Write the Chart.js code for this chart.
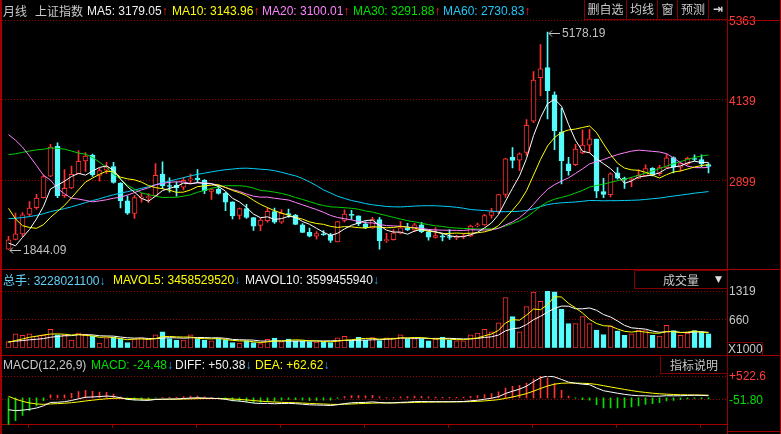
<!DOCTYPE html>
<html>
<head>
<meta charset="utf-8">
<title>上证指数 月线</title>
<script src="https://cdn.jsdelivr.net/npm/chart.js@4.4.1/dist/chart.umd.min.js"></script>
<style>
  html, body { margin: 0; padding: 0; background: #000; }
  body { position: relative; width: 781px; height: 434px; overflow: hidden;
         font-family: "Liberation Sans", Arial, "Noto Sans CJK SC", sans-serif; font-size: 12px; }
  canvas { position: absolute; left: 0; }
  .lbl { position: absolute; white-space: nowrap; line-height: 14px; height: 14px; }
  .cn { font-family: "Noto Sans CJK SC", sans-serif; }
  .up { color: #ff2020; }
  .dn { color: #1aa8e8; }
  .box { position: absolute; border: 1px solid #800000; color: #c8c8c8; text-align: center;
         box-sizing: border-box; white-space: nowrap; }
  .ln { position: absolute; background: #a00000; }
</style>
</head>
<body>
<canvas id="priceChart" width="781" height="272" style="top:0"></canvas>
<canvas id="volChart" width="781" height="86" style="top:271px"></canvas>
<canvas id="macdChart" width="781" height="78" style="top:356px"></canvas>

<!-- 框线 -->
<div class="ln" style="left:0;top:0;width:2px;height:434px"></div>
<div class="ln" style="left:727px;top:0;width:1px;height:434px"></div>
<div class="ln" style="left:780px;top:0;width:1px;height:434px"></div>
<div class="ln" style="left:727px;top:20px;width:54px;height:1px"></div>
<div class="ln" style="left:0;top:269px;width:781px;height:1px"></div>
<div class="ln" style="left:0;top:355px;width:781px;height:1px"></div>
<div class="ln" style="left:727px;top:431px;width:54px;height:1px"></div>

<!-- 主图标题 -->
<div class="lbl cn" style="left:3px;top:4px;color:#c8c8c8">月线</div>
<div class="lbl cn" style="left:35px;top:4px;color:#c8c8c8">上证指数</div>
<div class="lbl" style="left:87px;top:4px;color:#f0f0f0">MA5: 3179.05<span class="up">↑</span></div>
<div class="lbl" style="left:172px;top:4px;color:#ffff00">MA10: 3143.96<span class="up">↑</span></div>
<div class="lbl" style="left:262px;top:4px;color:#ff80ff">MA20: 3100.01<span class="up">↑</span></div>
<div class="lbl" style="left:353px;top:4px;color:#00e000">MA30: 3291.88<span class="up">↑</span></div>
<div class="lbl" style="left:443px;top:4px;color:#20c8f8">MA60: 2730.83<span class="up">↑</span></div>
<div class="box cn" style="left:584px;top:0;width:43px;height:20px;line-height:18px;border-top:none">删自选</div>
<div class="box cn" style="left:626px;top:0;width:32px;height:20px;line-height:18px;border-top:none">均线</div>
<div class="box cn" style="left:657px;top:0;width:21px;height:20px;line-height:18px;border-top:none">窗</div>
<div class="box cn" style="left:677px;top:0;width:32px;height:20px;line-height:18px;border-top:none">预测</div>
<div class="box" style="left:708px;top:0;width:20px;height:20px;line-height:18px;border-top:none;font-family:'DejaVu Sans';font-weight:bold;color:#d0d0d0">⇥</div>

<!-- 成交量标题 -->
<div class="lbl" style="left:3px;top:273px;color:#60d0f8"><span class="cn">总手</span>: 3228021100<span class="dn">↓</span></div>
<div class="lbl" style="left:113px;top:273px;color:#ffff00">MAVOL5: 3458529520<span class="dn">↓</span></div>
<div class="lbl" style="left:245px;top:273px;color:#f0f0f0">MAVOL10: 3599455940<span class="dn">↓</span></div>
<div class="box cn" style="left:634px;top:270px;width:94px;height:19px;line-height:17px;text-align:left;padding-left:28px">成交量<span style="position:absolute;left:80px;top:0;font-family:'DejaVu Sans';font-size:9px;color:#e0e0e0">▼</span></div>
<div class="box" style="left:727px;top:342px;width:36px;height:14px;line-height:12px;color:#c8c8c8">X1000</div>

<!-- MACD 标题 -->
<div class="lbl" style="left:3px;top:358px;color:#c8c8c8">MACD(12,26,9)</div>
<div class="lbl" style="left:91px;top:358px;color:#00e000">MACD: -24.48<span class="dn">↓</span></div>
<div class="lbl" style="left:175px;top:358px;color:#f0f0f0">DIFF: +50.38<span class="dn">↓</span></div>
<div class="lbl" style="left:255px;top:358px;color:#ffff00">DEA: +62.62<span class="dn">↓</span></div>
<div class="box cn" style="left:660px;top:355px;width:68px;height:19px;line-height:17px">指标说明</div>

<script>
// 月份（2009-01 起，共 101 根月K线）
const months = [];
for (let y = 2009; y <= 2017; y++) {
    for (let m = 1; m <= 12; m++) {
        if (months.length < 101) months.push(y + '-' + String(m).padStart(2, '0'));
    }
}

// K线数据
const opens = [1849,1995,2080,2381,2483,2637,2966,3423,2667,2785,3004,3201,
    3289,2980,3059,3113,2858,2590,2396,2631,2638,2665,3000,2814,
    2825,2799,2908,2939,2906,2735,2765,2702,2573,2364,2470,2332,
    2212,2285,2422,2260,2394,2368,2222,2104,2047,2083,2066,1960,
    2289,2382,2357,2234,2175,2300,1979,1993,2093,2176,2140,2219,
    2112,2026,2052,2033,2022,2035,2050,2204,2220,2365,2425,2687,
    3258,3212,3332,3810,4480,4633,4214,3643,3157,3143,3325,3441,
    3536,2730,2683,3019,2939,2916,2931,2973,3086,3004,3102,3251,
    3105,3160,3235,3223,3144];
const highs = [2045,2402,2407,2579,2688,2982,3454,3478,3068,3123,3361,3330,
    3306,3087,3181,3181,2867,2662,2673,2705,2700,3160,3186,2940,
    2878,2944,3001,3067,2915,2774,2827,2718,2575,2479,2536,2336,
    2319,2478,2476,2454,2461,2382,2240,2172,2117,2132,2089,2276,
    2451,2444,2358,2269,2334,2334,2092,2149,2270,2243,2243,2260,
    2128,2177,2077,2146,2061,2076,2218,2248,2382,2474,2688,3239,
    3406,3324,3835,4572,4986,5178.19,4260,4006,3256,3457,3679,3684,
    3538,2934,3019,3097,2952,2945,3069,3140,3100,3134,3301,3264,
    3174,3260,3295,3296,3167];
const lows = [1844.09,1990,2037,2354,2461,2630,2960,2639,2640,2774,3000,3039,
    2963,2890,3005,2861,2481,2382,2319,2570,2562,2660,2774,2722,
    2661,2757,2848,2867,2698,2610,2689,2437,2310,2307,2319,2134,
    2132,2262,2242,2242,2336,2223,2100,2036,1999,2057,1949,1959,
    2264,2303,2206,2161,2164,1849,1951,1987,2081,2132,2116,2102,
    1985,2017,1974,1997,1991,2010,2038,2189,2213,2323,2392,2640,
    3095,3050,3285,3787,4197,3847,3373,2850,2983,3130,3311,3327,
    2638,2638,2649,2920,2781,2807,2927,2968,2969,2980,3097,3016,
    3044,3137,3203,3111,3016];
const closes = [1990,2082,2373,2477,2632,2959,3412,2667,2779,2995,3195,3277,
    2989,3051,3109,2870,2592,2398,2637,2638,2655,2979,2820,2808,
    2790,2905,2928,2911,2743,2762,2701,2568,2359,2468,2333,2199,
    2292,2428,2263,2397,2373,2225,2103,2047,2086,2069,1980,2269,
    2385,2366,2237,2178,2301,1979,1994,2098,2174,2141,2220,2116,
    2033,2056,2033,2026,2039,2048,2201,2217,2364,2420,2683,3235,
    3210,3310,3748,4441,4612,4277,3664,3206,3053,3383,3445,3539,
    2738,2688,3004,2938,2917,2930,2979,3085,3005,3100,3250,3104,
    3159,3242,3223,3155,3117];

// 均线
const ma5 = [1941,1899,2027,2149,2311,2505,2771,2829,2890,2962,3010,2983,
    3047,3101,3124,3059,2922,2804,2721,2627,2584,2661,2746,2780,
    2810,2860,2850,2868,2855,2850,2809,2737,2627,2572,2486,2385,
    2330,2344,2303,2316,2351,2337,2272,2229,2167,2106,2057,2090,
    2158,2214,2247,2287,2293,2212,2138,2110,2109,2077,2125,2150,
    2137,2113,2092,2053,2037,2040,2069,2106,2174,2250,2377,2584,
    2782,2972,3237,3589,3864,4078,4148,4040,3762,3517,3350,3325,
    3232,3159,3083,2981,2857,2895,2954,2970,2983,3020,3084,3109,
    3124,3171,3196,3177,3179.05];
const ma10 = [2474,2313,2207,2181,2167,2223,2335,2428,2519,2637,2757,2877,
    2938,2996,3043,3034,2952,2926,2911,2876,2822,2792,2775,2751,
    2719,2722,2756,2807,2818,2830,2835,2794,2748,2714,2668,2597,
    2534,2485,2437,2401,2368,2334,2308,2266,2241,2228,2197,2181,
    2193,2190,2177,2172,2192,2185,2176,2179,2198,2185,2169,2144,
    2123,2111,2084,2089,2094,2089,2091,2099,2113,2144,2209,2327,
    2444,2573,2744,2983,3224,3430,3560,3639,3676,3690,3714,3737,
    3636,3461,3300,3166,3091,3064,3056,3026,2982,2938,2990,3031,
    3047,3077,3108,3130,3143.96];
const ma20 = [3605,3518,3413,3276,3130,2980,2907,2777,2697,2629,2616,2595,
    2573,2588,2605,2629,2644,2677,2715,2756,2789,2834,2857,2873,
    2881,2878,2854,2866,2865,2853,2828,2793,2761,2732,2693,2660,
    2645,2646,2628,2615,2601,2564,2528,2490,2455,2413,2365,2333,
    2315,2296,2272,2253,2250,2226,2209,2204,2198,2183,2181,2167,
    2150,2142,2138,2137,2135,2134,2145,2142,2141,2144,2166,2219,
    2264,2331,2419,2536,2658,2764,2837,2891,2942,3009,3079,3155,
    3190,3222,3262,3298,3326,3351,3366,3358,3348,3338,3313,3246,
    3173,3121,3099,3097,3100.01];
const ma30 = [3297,3311,3332,3353,3371,3380,3401,3394,3381,3353,3322,3304,
    3255,3182,3101,2998,2922,2827,2768,2711,2684,2660,2640,2642,
    2643,2660,2681,2720,2749,2781,2804,2821,2820,2820,2810,2785,
    2747,2739,2722,2702,2675,2640,2610,2577,2543,2516,2496,2491,
    2483,2474,2460,2433,2416,2388,2362,2335,2310,2284,2267,2245,
    2223,2206,2195,2180,2170,2165,2162,2155,2159,2159,2170,2203,
    2240,2282,2338,2417,2504,2571,2614,2642,2669,2709,2748,2800,
    2824,2844,2872,2898,2921,2949,2980,3014,3047,3083,3123,3158,
    3190,3224,3253,3277,3291.88];
const ma60 = [2315,2321,2332,2347,2365,2391,2424,2446,2469,2497,2528,2562,
    2592,2621,2653,2682,2707,2729,2755,2780,2805,2836,2865,2892,
    2918,2944,2972,2996,3014,3033,3051,3066,3076,3087,3090,3083,
    3074,3067,3051,3027,2998,2972,2932,2880,2822,2757,2709,2659,
    2626,2593,2572,2547,2528,2515,2502,2497,2495,2502,2508,2513,
    2514,2513,2507,2500,2490,2475,2455,2447,2440,2431,2422,2421,
    2425,2429,2440,2466,2500,2531,2548,2558,2565,2571,2582,2594,
    2593,2589,2591,2591,2594,2597,2601,2610,2621,2631,2647,2662,
    2676,2690,2706,2718,2730.83];

// 成交量（X1000 单位）
const volumes = [145,323,287,323,272,287,428,301,287,181,344,315,
    265,112,230,251,217,124,202,230,202,301,371,217,
    181,181,301,217,181,160,217,181,124,112,160,124,
    97,196,223,145,202,160,160,145,133,133,124,230,
    265,175,244,175,238,166,230,230,301,217,217,217,
    160,202,244,181,160,160,301,344,428,371,582,1165,
    723,371,955,1292,1081,1319,1300,898,560,560,723,560,
    413,308,513,392,287,323,413,400,287,270,520,400,
    287,344,400,375,322.8];
const mavol5 = [129,170,205,244,270,298,319,322,315,297,308,286,
    278,243,253,235,215,187,205,205,195,212,261,264,
    254,250,250,219,212,208,215,191,173,159,159,140,
    123,138,160,157,173,185,178,162,160,146,139,153,
    177,185,208,218,219,200,211,208,233,229,239,236,
    222,203,208,201,189,189,209,229,279,321,405,578,
    654,642,759,901,884,1004,1189,1178,1032,927,808,660,
    563,513,503,437,383,365,386,363,342,339,378,375,
    353,364,390,361,345.9];
const mavol10 = [138,155,168,186,198,214,245,264,279,283,303,303,
    300,279,275,271,250,233,224,229,215,213,224,235,
    230,223,231,240,238,231,233,221,196,186,183,178,
    157,155,159,158,156,154,158,161,159,159,162,166,
    170,173,177,178,186,188,198,208,225,224,219,224,
    215,218,218,220,213,206,206,219,240,255,297,394,
    442,461,540,653,731,829,916,969,966,906,906,925,
    871,772,715,623,521,464,449,433,390,361,371,381,
    358,355,366,372,360];

// MACD(12,26,9)
const diff = [-286.8,-307.0,-296.2,-276.1,-244.8,-191.4,-111.3,-106.7,-92.9,-63.8,-24.3,13.4,
    19.8,29.6,41.6,31.4,0.9,-38.4,-49.8,-58.0,-62.5,-39.5,-33.7,-29.7,
    -27.7,-16.6,-5.9,1.2,-6.7,-11.2,-19.5,-36.4,-65.9,-79.5,-100.0,-125.7,
    -137.0,-133.4,-142.2,-136.8,-132.9,-140.2,-154.0,-167.5,-173.1,-176.9,-185.0,-166.1,
    -140.1,-119.7,-112.7,-110.5,-97.8,-112.3,-121.3,-118.6,-109.2,-103.1,-90.9,-88.6,
    -92.4,-92.5,-93.4,-93.5,-91.6,-88.3,-72.5,-58.0,-34.3,-10.9,28.6,103.2,
    158.5,208.0,279.3,387.2,481.0,522.3,499.8,440.0,376.0,347.8,326.7,314.0,
    236.6,169.2,139.7,109.7,83.3,62.7,49.8,47.5,38.8,39.2,51.0,48.0,
    49.5,56.7,60.2,56.8,50.38];
const dea = [36.5,-32.2,-85.0,-123.2,-147.5,-156.3,-147.3,-139.2,-129.9,-116.7,-98.2,-75.9,
    -56.8,-39.5,-23.3,-12.4,-9.7,-15.4,-22.3,-29.4,-36.0,-36.7,-36.1,-34.8,
    -33.4,-30.0,-25.2,-19.9,-17.3,-16.1,-16.8,-20.7,-29.7,-39.7,-51.8,-66.6,
    -80.7,-91.2,-101.4,-108.5,-113.4,-118.8,-125.8,-134.1,-141.9,-148.9,-156.1,-158.1,
    -154.5,-147.5,-140.5,-134.5,-127.2,-124.2,-123.6,-122.6,-119.9,-116.5,-111.4,-106.8,
    -103.9,-101.6,-100.0,-98.7,-97.3,-95.5,-90.9,-84.3,-74.3,-61.6,-43.6,-14.2,
    20.3,57.8,102.1,159.1,223.5,283.3,326.6,349.3,354.6,353.2,347.9,341.1,
    320.2,290.0,259.9,229.9,200.6,173.0,148.4,128.2,110.3,96.1,87.1,79.3,
    73.3,70.0,68.0,65.8,62.62];
const macd = [-646.6,-549.6,-422.4,-305.8,-194.6,-70.2,72.0,65.0,74.0,105.8,147.8,178.6,
    153.2,138.2,129.8,87.6,21.2,-46.0,-55.0,-57.2,-53.0,-5.6,4.8,10.2,
    11.4,26.8,38.6,42.2,21.2,9.8,-5.4,-31.4,-72.4,-79.6,-96.4,-118.2,
    -112.6,-84.4,-81.6,-56.6,-39.0,-42.8,-56.4,-66.8,-62.4,-56.0,-57.8,-16.0,
    28.8,55.6,55.6,48.0,58.8,23.8,4.6,8.0,21.4,26.8,41.0,36.4,
    23.0,18.2,13.2,10.4,11.4,14.4,36.8,52.6,80.0,101.4,144.4,234.8,
    276.4,300.4,354.4,456.2,515.0,478.0,346.4,181.4,42.8,-10.8,-42.4,-54.2,
    -167.2,-241.6,-240.4,-240.4,-234.6,-220.6,-197.2,-161.4,-143.0,-113.8,-72.2,-62.6,
    -47.6,-26.6,-15.6,-18.0,-24.48];

// 坐标刻度
const priceTicks = [2899, 4139, 5363];
const volTicks = [660, 1319];
const macdTicks = [-51.80, 522.6];
const macdTickLabels = ['-51.80', '+522.6'];
const bottomTickIdx = [2.8, 14.8, 26.8, 38.8, 50.8, 62.8, 74.8, 86.8, 98.8];

// 颜色
const RED = '#ff3232';
const CYAN = '#54fcfc';
const GREEN = '#00e000';
const GRID = '#9a0000';
const FONT = { family: 'Liberation Sans', size: 12 };

Chart.defaults.animation = false;
Chart.defaults.font.family = 'Liberation Sans';

const isUp = i => closes[i] >= opens[i];
const pts = arr => arr.map((v, i) => ({ x: i, y: v }));

function xScale() {
    return { type: 'linear', min: -0.93, max: months.length + 1.64, offset: false, display: false };
}

function yScale(min, max, ticks, color, labels, shift) {
    return {
        position: 'right', min: min, max: max,
        afterFit: s => { s.width = 54; },
        afterBuildTicks: s => { s.ticks = ticks.map(v => ({ value: v })); },
        ticks: {
            color: color, font: FONT, padding: 2, labelOffset: shift,
            callback: (v, i) => labels ? labels[i] : String(v)
        },
        grid: { color: GRID, drawTicks: false, lineWidth: 1 },
        border: { display: false, dash: [1, 2] }
    };
}

function lineSet(arr, color) {
    return { type: 'line', data: pts(arr), borderColor: color, borderWidth: 1,
             pointRadius: 0, tension: 0, order: 0 };
}

const baseOptions = {
    responsive: false,
    devicePixelRatio: 1,
    plugins: { legend: { display: false }, tooltip: { enabled: false } },
    events: []
};

// 最高/最低价标注
const hiLoLabel = {
    id: 'hiLoLabel',
    afterDatasetsDraw(chart) {
        const { ctx, scales: { x, y } } = chart;
        const hi = highs.indexOf(Math.max(...highs));
        const lo = lows.indexOf(Math.min(...lows));
        const marks = [[hi, highs[hi]], [lo, lows[lo]]];
        ctx.save();
        ctx.strokeStyle = '#c0c0c0';
        ctx.fillStyle = '#c0c0c0';
        ctx.lineWidth = 1;
        ctx.font = '12px "Liberation Sans"';
        ctx.textBaseline = 'middle';
        marks.forEach(([i, v]) => {
            const px = Math.round(x.getPixelForValue(i));
            const py = Math.round(y.getPixelForValue(v)) + 1.5;
            ctx.beginPath();
            ctx.moveTo(px + 1, py);
            ctx.lineTo(px + 12, py);
            ctx.moveTo(px + 1, py);
            ctx.lineTo(px + 4, py - 3);
            ctx.moveTo(px + 1, py);
            ctx.lineTo(px + 4, py + 3);
            ctx.stroke();
            ctx.fillText(v.toFixed(2), px + 14, py);
        });
        ctx.restore();
    }
};

// 主图：K线 + 均线
new Chart(document.getElementById('priceChart'), {
    type: 'bar',
    data: {
        datasets: [
            lineSet(ma5, '#ffffff'),
            lineSet(ma10, '#ffff00'),
            lineSet(ma20, '#ff80ff'),
            lineSet(ma30, '#00d000'),
            lineSet(ma60, '#00d0f8'),
            {
                data: months.map((m, i) => ({ x: i, y: [opens[i], closes[i]] })),
                backgroundColor: months.map((m, i) => isUp(i) ? '#000000' : CYAN),
                borderColor: months.map((m, i) => isUp(i) ? RED : CYAN),
                borderWidth: 1, borderSkipped: false, barThickness: 5,
                minBarLength: 1, grouped: false, order: 1
            },
            {
                data: months.map((m, i) => ({ x: i, y: [lows[i], highs[i]] })),
                backgroundColor: months.map((m, i) => isUp(i) ? RED : CYAN),
                barThickness: 1, grouped: false, order: 2
            }
        ]
    },
    options: Object.assign({}, baseOptions, {
        layout: { padding: { left: 2, right: 0, top: 20, bottom: 2 } },
        scales: { x: xScale(), y: yScale(1638, 5363, priceTicks, '#ff3c3c', null, 2) }
    }),
    plugins: [hiLoLabel]
});

// 成交量
new Chart(document.getElementById('volChart'), {
    type: 'bar',
    data: {
        datasets: [
            lineSet(mavol5, '#ffff00'),
            lineSet(mavol10, '#ffffff'),
            {
                data: pts(volumes),
                backgroundColor: months.map((m, i) => isUp(i) ? '#000000' : CYAN),
                borderColor: months.map((m, i) => isUp(i) ? RED : CYAN),
                borderWidth: 1, borderSkipped: false, barThickness: 5,
                grouped: false, order: 1
            }
        ]
    },
    options: Object.assign({}, baseOptions, {
        layout: { padding: { left: 2, right: 0, top: 20, bottom: 2 } },
        scales: { x: xScale(), y: yScale(0, 1319, volTicks, '#c8c8c8', null, 1) }
    })
});

// MACD
const macdX = xScale();
Object.assign(macdX, {
    display: true, position: 'bottom',
    afterFit: s => { s.height = 3; },
    afterBuildTicks: s => { s.ticks = bottomTickIdx.map(v => ({ value: v })); },
    ticks: { display: false },
    grid: { drawOnChartArea: false, drawTicks: true, tickLength: 3, color: '#a00000', offset: false },
    border: { display: true, color: '#a00000' }
});
const macdY = yScale(-647, 522.6, macdTicks, ctx => ctx.tick && ctx.tick.value > 0 ? '#ff3c3c' : GREEN, macdTickLabels, 1);

new Chart(document.getElementById('macdChart'), {
    type: 'bar',
    data: {
        datasets: [
            lineSet(diff, '#ffffff'),
            lineSet(dea, '#ffff00'),
            {
                data: pts(macd),
                backgroundColor: macd.map(v => v >= 0 ? RED : GREEN),
                barThickness: 1, grouped: false, order: 1
            }
        ]
    },
    options: Object.assign({}, baseOptions, {
        layout: { padding: { left: 2, right: 0, top: 20, bottom: 0 } },
        scales: { x: macdX, y: macdY }
    })
});
</script>
</body>
</html>
